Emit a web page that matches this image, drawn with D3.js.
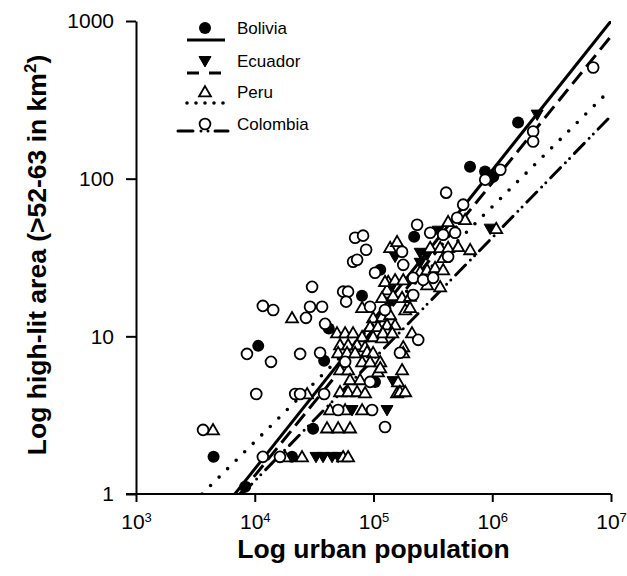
<!DOCTYPE html>
<html><head><meta charset="utf-8">
<script src="https://cdn.jsdelivr.net/npm/d3@7"></script>
<style>
html,body{margin:0;padding:0;background:#fff;}
svg{display:block;font-family:"Liberation Sans",Arial,sans-serif;}
</style></head>
<body>
<svg id="c" width="627" height="576"></svg>
<script>
// ---- data (population, high-lit area km2) ----
const bolivia = [[4.5e3,1.72],[8.3e3,1.11],[1.07e4,8.7],[2.06e4,1.72],[3.1e4,2.59],[3.84e4,7.0],[4.2e4,11.2],[8.0e4,18.1],[1.14e5,26.4],[1.03e5,5.14],[2.2e5,42.8],[6.5e5,119],[8.7e5,111],[1.02e6,103],[1.65e6,227]];
const ecuador = [[3.28e4,1.72],[3.76e4,1.72],[4.48e4,1.72],[5.04e4,1.72],[6.6e4,3.41],[1.3e5,3.41],[1.46e5,5.2],[1.38e5,19.7],[1.38e5,16.6],[1.52e5,32.0],[2.47e5,33.9],[2.83e5,32.9],[2.47e5,29.3],[3.5e5,46.8],[9.6e5,48.2],[2.39e6,255]];
const peru = [[4.45e3,2.55],[2.06e4,13.1],[1.8e4,1.72],[2.76e4,4.31],[2.5e4,1.72],[4.06e4,2.62],[5.04e4,2.62],[6.35e4,2.62],[5.55e4,1.72],[6.11e4,1.72],
[4.93e4,10.5],[5.77e4,10.5],[6.73e4,10.5],[8.02e4,9.93],[9.93e4,9.93],[1.18e5,9.78],
[5.23e4,8.83],[6.11e4,8.83],[7.28e4,8.83],[8.49e4,8.57],
[5.04e4,7.86],[5.99e4,7.86],[7.0e4,7.86],[8.83e4,7.98],[9.93e4,7.86],
[8.02e4,6.89],[9.36e4,6.89],[1.14e5,6.89],
[5.23e4,6.13],[6.11e4,6.13],[1.09e5,5.95],
[6.35e4,5.3],[7.71e4,5.3],
[5.23e4,4.45],[6.11e4,4.45],[7.28e4,4.45],[8.49e4,4.38],[1.58e5,4.38],
[4.31e4,3.41],[5.77e4,3.41],[8.02e4,3.41],
[1.38e5,36.5],[1.58e5,39.8],[1.3e5,19.7],[1.33e5,22.2],[1.18e5,17.6],[1.46e5,18.1],[8.02e4,15.2],[9.93e4,13.1],[1.18e5,13.3],[1.38e5,13.7],[9.36e4,11.5],[1.09e5,11.5],[1.3e5,11.8],[1.52e5,11.8],
[4.25e5,53.3],[5.91e5,54.9],[3.0e5,36.5],[3.64e5,36.5],[4.25e5,36.5],[5.16e5,37.0],[6.52e5,35.4],[3.86e5,31.5],[2.47e5,25.7],[2.83e5,26.4],[3.3e5,27.2],[3.86e5,26.4],[1.25e5,22.2],[1.52e5,22.8],[1.78e5,22.8],[2.83e5,21.2],[3.64e5,20.6],[1.74e5,17.6],[2.03e5,17.9],[1.85e5,14.7],[2.03e5,15.2],[1.2e5,10.5],[1.44e5,10.5],[2.11e5,10.5],[1.78e5,8.57],[1.78e5,7.86],[1.74e5,6.13],[1.14e5,6.31],[1.61e5,5.14],[1.67e5,4.45],[1.85e5,4.45],[1.08e6,48.2]];
const colombia = [[3.67e3,2.55],[8.6e3,7.74],[1.03e4,4.31],[1.17e4,1.72],[1.17e4,15.6],[1.43e4,14.7],[1.37e4,6.89],[1.63e4,1.72],[2.19e4,4.31],[2.41e4,4.31],[2.41e4,7.74],[2.7e4,13.1],[2.92e4,15.4],[3.69e4,15.4],[3.04e4,20.6],[3.55e4,7.86],[3.91e4,12.0],[3.84e4,4.31],[5.55e4,19.2],[6.11e4,19.2],[5.88e4,16.6],[5.77e4,6.89],[6.73e4,29.7],[7.28e4,30.6],[7.0e4,42.2],[8.17e4,43.5],[8.67e4,35.4],[1.03e5,25.3],[9.36e4,15.4],[9.36e4,5.14],[1.25e5,2.66],[1.25e5,14.7],[1.67e5,7.86],[1.74e5,34.4],[1.78e5,28.4],[2.16e5,23.5],[2.62e5,22.8],[3.18e5,23.5],[2.16e5,18.3],[2.38e5,9.5],[2.33e5,51],[3.0e5,45.4],[3.86e5,44.1],[4.87e5,45.4],[4.25e5,32.0],[5.06e5,56.5],[5.69e5,68.4],[4.09e5,81.5],[8.72e5,98.6],[1.17e6,114],[2.21e6,199],[2.21e6,172],[7.08e6,507],[5.04e4,3.41],[9.73e4,3.41]];

// fitted lines (endpoints)
const fitBolivia = [[6.8e3,1],[1e7,1000]];
const fitEcuador = [[7.5e3,1],[1e7,800]];
const fitPeru = [[3.6e3,1],[1e7,370]];
const fitColombia = [[7.8e3,1],[1e7,250]];

const xTickValues = [1e3,1e4,1e5,1e6,1e7];
const xTickExponents = ["3","4","5","6","7"];
const yTickValues = [1,10,100,1000];
const yTickLabels = ["1","10","100","1000"];
const seriesNames = ["Bolivia","Ecuador","Peru","Colombia"];

// ---- drawing ----
const svg = d3.select("#c");
const L=136, R=611, T=21, B=494;
const x = d3.scaleLog().domain([1e3,1e7]).range([L,R]);
const y = d3.scaleLog().domain([1,1000]).range([B,T]);

svg.append("defs").append("clipPath").attr("id","clip")
  .append("rect").attr("x",L).attr("y",T).attr("width",R-L).attr("height",B-T);

const styles = {
  Bolivia:{dash:null, cap:"butt", w:3, legendDash:null},
  Ecuador:{dash:"15,7", cap:"butt", w:3, legendDash:"12,10"},
  Peru:{dash:"0,12", cap:"round", w:3.6, legendDash:"0,9"},
  Colombia:{dash:"14,7,0,6,0,7", cap:"round", w:3, legendDash:"15,8,0,7,0,7"}
};
const fits = {Bolivia:fitBolivia, Ecuador:fitEcuador, Peru:fitPeru, Colombia:fitColombia};
const pts = {Bolivia:bolivia, Ecuador:ecuador, Peru:peru, Colombia:colombia};

const line = d3.line().x(d=>x(d[0])).y(d=>y(d[1]));
const lg = svg.append("g").attr("clip-path","url(#clip)");
seriesNames.forEach(n=>{
  const s=styles[n];
  lg.append("path").attr("d",line(fits[n])).attr("fill","none").attr("stroke","#000")
    .attr("stroke-width",s.w).attr("stroke-linecap",s.cap)
    .attr("stroke-dasharray",s.dash);
});

const triUp = d3.symbol().type(d3.symbolTriangle).size(62)();
function drawMarker(g, n){
  if(n==="Bolivia") g.append("circle").attr("r",6).attr("fill","#000");
  else if(n==="Colombia") g.append("circle").attr("r",5.4).attr("fill","#fff").attr("stroke","#000").attr("stroke-width",1.8);
  else if(n==="Peru") g.append("path").attr("d",triUp).attr("transform","translate(0,1)").attr("fill","#fff").attr("stroke","#000").attr("stroke-width",1.8);
  else g.append("path").attr("d",triUp).attr("transform","translate(0,-1) rotate(180)").attr("fill","#000").attr("stroke","#000").attr("stroke-width",1);
}
seriesNames.forEach(n=>{
  const g = svg.append("g");
  pts[n].forEach(d=>{
    const m = g.append("g").attr("transform",`translate(${x(d[0])},${y(d[1])})`);
    drawMarker(m,n);
  });
});

// axes
const xAxis = d3.axisBottom(x).tickValues(xTickValues).tickSize(8).tickSizeOuter(0).tickFormat("");
const gx = svg.append("g").attr("transform",`translate(0,${B})`).call(xAxis);
gx.select(".domain").attr("stroke-width",2).attr("d",`M${L-10},0H${R}`);
gx.selectAll(".tick line").attr("stroke-width",2);
gx.selectAll(".tick").each(function(d,i){
  const t = d3.select(this).append("text").attr("y",35).attr("text-anchor","middle")
    .attr("fill","#000").style("font-size","21px");
  t.append("tspan").text("10");
  t.append("tspan").attr("dy",-7).style("font-size","13px").text(xTickExponents[i]);
});
const yAxis = d3.axisLeft(y).tickValues(yTickValues).tickSize(10).tickSizeOuter(0).tickPadding(12)
  .tickFormat((d,i)=>yTickLabels[i]);
const gy = svg.append("g").attr("transform",`translate(${L},0)`).call(yAxis);
gy.select(".domain").attr("stroke-width",2);
gy.selectAll(".tick line").attr("stroke-width",2);
gy.selectAll(".tick text").style("font-size","21px").attr("fill","#000").attr("font-family",null);
gx.attr("font-family",null); gy.attr("font-family",null);

// titles
svg.append("text").attr("x",(L+R)/2).attr("y",558).attr("text-anchor","middle")
  .style("font-size","26.5px").style("font-weight","bold").text("Log urban population");
const yt = svg.append("text").attr("transform",`translate(46,255) rotate(-90)`)
  .attr("text-anchor","middle").style("font-size","26.5px").style("font-weight","bold");
yt.append("tspan").text("Log high-lit area (>52-63 in km");
yt.append("tspan").attr("dy",-10).style("font-size","17px").text("2");
yt.append("tspan").attr("dy",10).text(")");

// legend
const legY = [28,61,92,124];
const legLineY = [40,73,103,131];
seriesNames.forEach((n,i)=>{
  const s=styles[n];
  const x1 = n==="Colombia"?178:187, x2 = n==="Colombia"?228:225;
  svg.append("line").attr("x1",x1).attr("x2",x2).attr("y1",legLineY[i]).attr("y2",legLineY[i])
    .attr("stroke","#000").attr("stroke-width",s.w).attr("stroke-linecap",s.cap)
    .attr("stroke-dasharray",s.legendDash);
  const m = svg.append("g").attr("transform",`translate(205,${legY[i]})`);
  drawMarker(m,n);
  svg.append("text").attr("x",237).attr("y",legY[i]+6).style("font-size","17px").text(n);
});
</script>
</body></html>
